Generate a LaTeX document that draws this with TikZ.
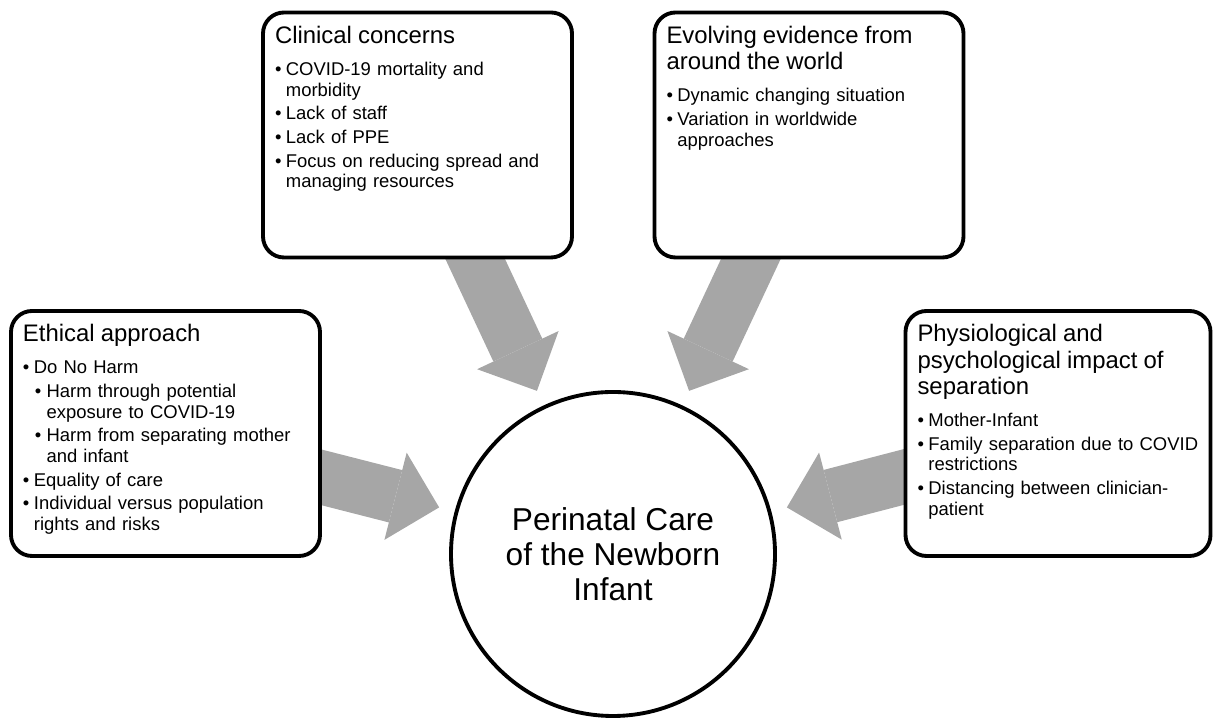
\documentclass[tikz,border=0pt]{standalone}
\usepackage{fontspec}
\setmainfont{Liberation Sans}
\usepackage{tikz}
\usepackage{xcolor}
\usetikzlibrary{arrows.meta, backgrounds}
\definecolor{mygray}{RGB}{166, 166, 166}
\newcommand{\bodyfont}{\fontsize{10.5}{11.7}\selectfont}
\newcommand{\hd}[1]{{\fontsize{13.6}{15}\selectfont #1\par}\vspace{4.7pt}}
\newcommand{\li}[1]{\par\vspace{1.8pt}\hangindent=6.2pt\hangafter=1%
  \makebox[6.2pt][l]{\textbullet}#1\par}
\newcommand{\lii}[1]{\par\vspace{1.8pt}\hangindent=13.4pt\hangafter=1%
  \hspace*{6.8pt}\makebox[6.6pt][l]{\textbullet}#1\par}

\begin{document}
\begin{tikzpicture}[
          box/.style={draw,fill=white,line width=2.2pt,rounded corners=0.42cm,
                      text width=5.7cm,align=left,inner sep=0.24cm,
                      text height=0.38cm,text depth=4.04cm,font=\bodyfont},
          hub/.style={draw,fill=white,circle,line width=2.2pt,minimum size=6.48cm,
                      align=center,font=\fontsize{18}{19.8}\selectfont},
          fat/.style={draw=mygray,line width=1.08cm,
                      -{Triangle[width=1.8cm,length=0.9cm,line width=0pt]}}]
        \useasboundingbox (0,0) rectangle (24.28,14.36);
        \node[hub](care) at (12.26,3.28){Perinatal Care\\of the Newborn\\Infant};
        \node[box](clin) at (8.35,11.66){\hd{Clinical concerns}
          \li{COVID-19 mortality and\newline morbidity}
          \li{Lack of staff}
          \li{Lack of PPE}
          \li{Focus on reducing spread and\newline managing resources}};
        \node[box](evid) at (16.18,11.66){\hd{Evolving evidence from\newline around the world}
          \li{Dynamic changing situation}
          \li{Variation in worldwide\newline approaches}};
        \node[box](ethic) at (3.31,5.69){\hd{Ethical approach}
          \li{Do No Harm}
          \lii{Harm through potential\newline exposure to COVID-19}
          \lii{Harm from separating mother\newline and infant}
          \li{Equality of care}
          \li{Individual versus population\newline rights and risks}};
        \node[box,text width=5.62cm](sep) at (21.16,5.69){\hd{Physiological and\newline psychological impact of\newline separation}
          \li{Mother-Infant}
          \li{Family separation due to COVID\newline restrictions}
          \li{Distancing between clinician-\newline patient}};
        \coordinate (t1) at ([shift={(0.97,0.4)}]clin.south);
        \coordinate (t2) at ([shift={(-0.98,0.4)}]evid.south);
        \coordinate (t3) at ([shift={(-0.39,-0.78)}]ethic.east);
        \coordinate (t4) at ([shift={(0.35,-0.78)}]sep.west);
        \coordinate (h1) at ([shift={(115:3.6)}]care.center);
        \coordinate (h2) at ([shift={(65:3.6)}]care.center);
        \coordinate (h3) at ([shift={(165:3.6)}]care.center);
        \coordinate (h4) at ([shift={(15:3.6)}]care.center);
        \begin{scope}[on background layer]
          \draw[fat](t1)--(h1);
          \draw[fat](t2)--(h2);
          \draw[fat](t3)--(h3);
          \draw[fat](t4)--(h4);
        \end{scope}
      \end{tikzpicture}
\end{document}
